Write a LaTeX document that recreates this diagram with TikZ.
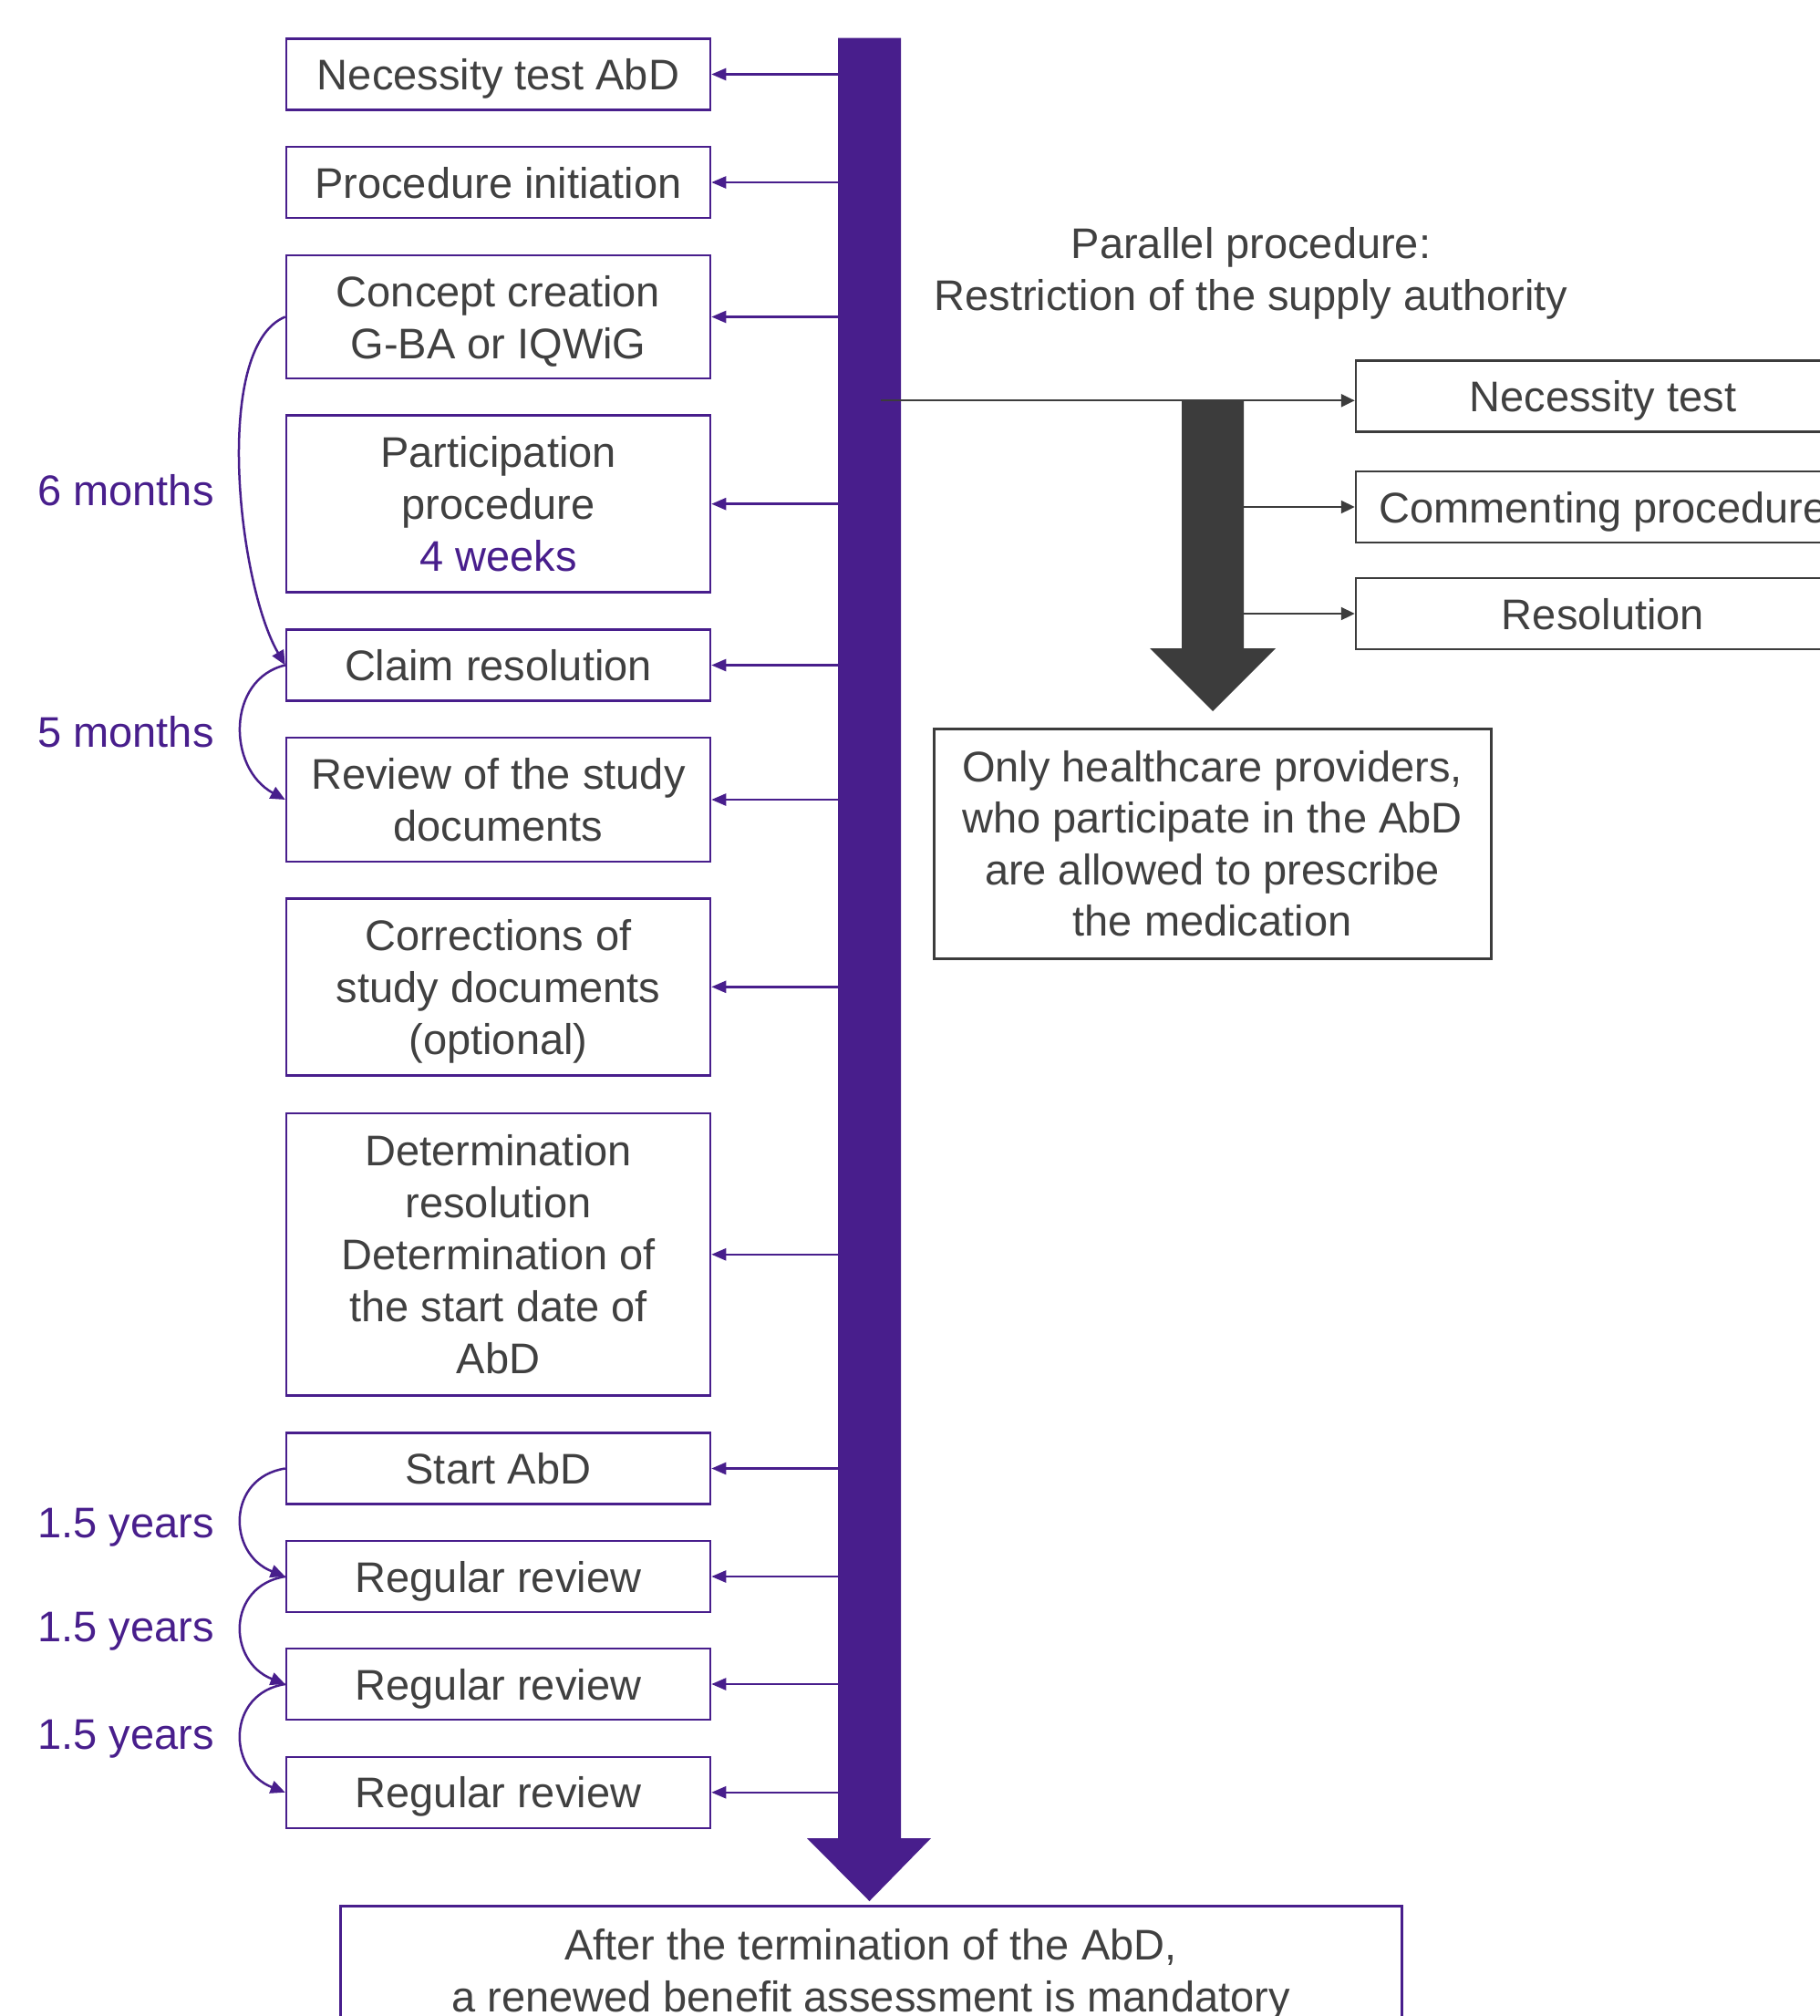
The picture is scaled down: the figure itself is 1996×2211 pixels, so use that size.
\documentclass[tikz,border=0pt]{standalone}
\usepackage{fontspec}
\setmainfont{Liberation Sans}
\usetikzlibrary{arrows.meta}
\definecolor{purp}{HTML}{481E8C}
\definecolor{txt}{HTML}{404040}
\definecolor{dgray}{HTML}{3C3C3C}
\newcommand\mainsz{\fontsize{23.5pt}{28.5pt}\selectfont}
\tikzset{
  box/.style={draw=purp, line width=1.25pt, minimum width=232.5pt, inner sep=0pt, align=center, text=txt, font=\mainsz, text depth=0pt},
  gbox/.style={draw=dgray, line width=1.25pt, inner sep=0pt, align=center, text=txt, font=\mainsz, text depth=0pt},
  parr/.style={draw=purp, line width=1.25pt, -{Triangle[length=8pt,width=6.5pt]}},
  garr/.style={draw=dgray, line width=1.1pt, -{Triangle[length=7.5pt,width=7pt]}},
  carr/.style={draw=purp, line width=1.25pt, -{Triangle[length=8pt,width=7pt]}},
  lab/.style={text=purp, font=\mainsz, inner sep=0pt, anchor=east, text depth=0pt}
}
\begin{document}
\begin{tikzpicture}[x=0.5pt,y=-0.5pt]
\useasboundingbox (0,0) rectangle (1996,2211);
\clip (0,0) rectangle (1996,2211);
\fill[white] (0,0) rectangle (1996,2211);

% main purple bar with arrow head
\fill[purp] (919,41.5) -- (988,41.5) -- (988,2016) -- (1021,2016) -- (953.5,2085) -- (885,2016) -- (919,2016) -- cycle;
\coordinate (barL) at (919,0);

% left boxes
\node[box, minimum height=39pt] (b1) at (546.5,81.5) {Necessity test AbD};
\node[box, minimum height=39pt] (b2) at (546.5,200) {Procedure initiation};
\node[box, minimum height=67.5pt] (b3) at (546.5,347.5) {Concept creation\\G-BA or IQWiG};
\node[box, minimum height=97pt] (b4) at (546.5,552.7) {Participation\\procedure\\\textcolor{purp}{4 weeks}};
\node[box, minimum height=39pt] (b5) at (546.5,729.5) {Claim resolution};
\node[box, minimum height=68pt] (b6) at (546.5,877) {Review of the study\\documents};
\node[box, minimum height=97pt] (b7) at (546.5,1082.3) {Corrections of\\study documents\\(optional)};
\node[box, minimum height=154.75pt] (b8) at (546.5,1375.75) {Determination\\resolution\\Determination of\\the start date of\\AbD};
\node[box, minimum height=39pt] (b9) at (546.5,1610.5) {Start AbD};
\node[box, minimum height=39pt] (b10) at (546.5,1729) {Regular review};
\node[box, minimum height=39pt] (b11) at (546.5,1847) {Regular review};
\node[box, minimum height=39pt] (b12) at (546.5,1965.75) {Regular review};

\foreach \n in {b1,b2,b3,b4,b5,b6,b7,b8,b9,b10,b11,b12}
  \draw[parr] (\n.east -| barL) -- (\n.east);

% duration labels and curved arrows
\node[lab] (l6) at (235,537) {6 months};
\node[lab] (l5) at (235,802) {5 months};
\node[lab] (y1) at (235,1670) {1.5 years};
\node[lab] (y2) at (235,1784) {1.5 years};
\node[lab] (y3) at (235,1902) {1.5 years};

\draw[carr] (b3.west) .. controls +(-80,32.5) and +(-52,-89.5) .. (b5.west);
\draw[carr] (b5.west) .. controls +(-64,15) and +(-64,-35) .. (b6.west);
\draw[carr] (b9.west) .. controls +(-64,10) and +(-64,-25) .. (b10.west);
\draw[carr] (b10.west) .. controls +(-64,10) and +(-64,-25) .. (b11.west);
\draw[carr] (b11.west) .. controls +(-64,10) and +(-64,-25) .. (b12.west);

% parallel procedure
\node[font=\mainsz, text=txt, align=center, inner sep=0pt, text depth=0pt] (par) at (1372,295) {Parallel procedure:\\Restriction of the supply authority};

\fill[dgray] (1296,438) -- (1364,438) -- (1364,711) -- (1399,711) -- (1330,780) -- (1261,711) -- (1296,711) -- cycle;
\coordinate (shR) at (1364,0);
\coordinate (src) at (966,439.3);

\node[gbox, minimum width=271pt, minimum height=39pt] (r1) at (1758,434.5) {Necessity test};
\node[gbox, minimum width=271pt, minimum height=39pt] (r2) at (1758,556) {Commenting procedure};
\node[gbox, minimum width=271pt, minimum height=39pt] (r3) at (1758,673) {Resolution};

\draw[garr] (src) -- (src -| r1.west);
\draw[garr] (r2.west -| shR) -- (r2.west);
\draw[garr] (r3.west -| shR) -- (r3.west);

\node[gbox, line width=1.5pt, minimum width=305.5pt, minimum height=126pt, font=\fontsize{23.5pt}{28.25pt}\selectfont] (only) at (1329.5,925) {Only healthcare providers,\\who participate in the AbD\\are allowed to prescribe\\the medication};

% final box
\node[box, line width=1.5pt, minimum width=582pt, minimum height=71pt] (fin) at (955,2161) {After the termination of the AbD,\\a renewed benefit assessment is mandatory};
\end{tikzpicture}
\end{document}
